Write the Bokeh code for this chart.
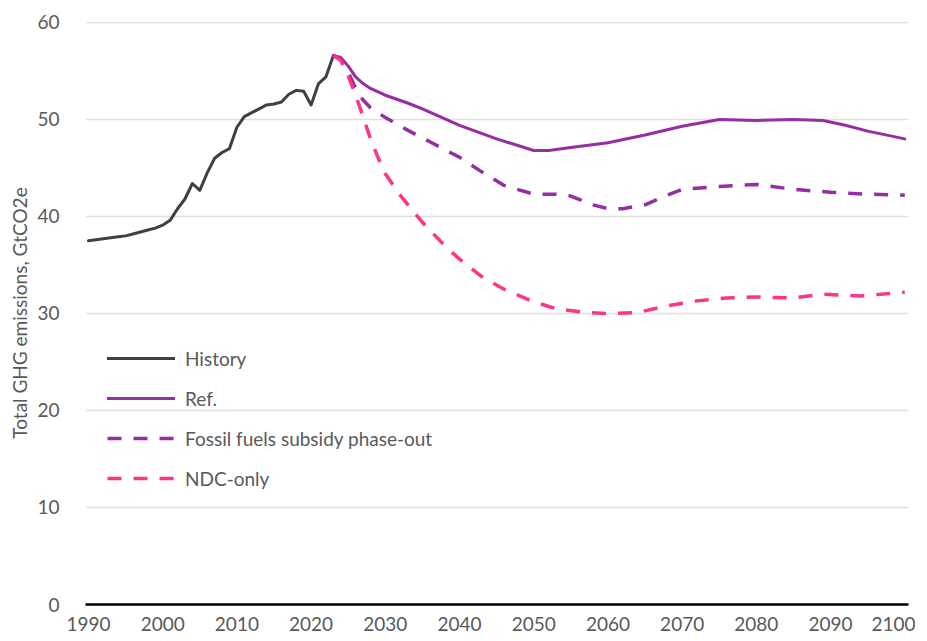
from bokeh.plotting import figure
from bokeh.models import Legend, LegendItem, FixedTicker, Range1d
from bokeh.embed import file_html
from bokeh.resources import INLINE

# ---- data ----
hist_years = list(range(1990, 2024))
hist_vals = [37.5, 37.6, 37.7, 37.8, 37.9, 38.0, 38.2, 38.4, 38.6, 38.8,
             39.1, 39.6, 40.8, 41.8, 43.4, 42.7, 44.5, 46.0, 46.6, 47.0,
             49.2, 50.3, 50.7, 51.1, 51.5, 51.6, 51.8, 52.6, 53.0, 52.9,
             51.5, 53.7, 54.4, 56.6]

ref_years = [2023, 2024, 2025, 2026, 2027, 2028, 2030, 2033, 2035, 2040, 2045,
             2050, 2052, 2055, 2060, 2065, 2070, 2075, 2080, 2085, 2089, 2092,
             2095, 2100]
ref_vals = [56.6, 56.4, 55.5, 54.4, 53.7, 53.2, 52.5, 51.7, 51.1, 49.4, 48.0,
            46.8, 46.8, 47.1, 47.6, 48.4, 49.3, 50.0, 49.9, 50.0, 49.9, 49.4,
            48.8, 48.0]

ffs_years = [2023, 2024, 2025, 2026, 2027, 2028, 2030, 2033, 2036, 2040, 2043,
             2046, 2050, 2053, 2055, 2058, 2060, 2062, 2065, 2068, 2070, 2075,
             2080, 2085, 2090, 2095, 2100]
ffs_vals = [56.6, 56.2, 54.9, 53.2, 52.0, 51.2, 50.2, 48.9, 47.7, 46.1, 44.6,
            43.2, 42.3, 42.3, 42.1, 41.2, 40.8, 40.8, 41.2, 42.2, 42.8, 43.1,
            43.3, 42.8, 42.5, 42.3, 42.2]

ndc_years = [2023, 2024, 2025, 2026, 2027, 2028, 2029, 2030, 2032, 2035, 2038,
             2040, 2043, 2046, 2050, 2053, 2057, 2060, 2064, 2068, 2072, 2076,
             2080, 2085, 2089, 2094, 2100]
ndc_vals = [56.6, 56.1, 54.5, 52.5, 50.3, 48.0, 46.1, 44.4, 42.2, 39.4, 37.0,
            35.6, 33.8, 32.5, 31.2, 30.5, 30.1, 30.0, 30.1, 30.8, 31.3, 31.6,
            31.7, 31.6, 32.0, 31.8, 32.2]

x_ticks = [1990, 2000, 2010, 2020, 2030, 2040, 2050, 2060, 2070, 2080, 2090, 2100]
y_ticks = [0, 10, 20, 30, 40, 50, 60]

series_names = ["History", "Ref.", "Fossil fuels subsidy phase-out", "NDC-only"]

FONT = "Lato"
TXT = "#595959"

p = figure(width=915, height=633,
           x_range=Range1d(1989.6, 2100.5), y_range=Range1d(0, 60.1),
           output_backend="svg", toolbar_location=None,
           min_border_left=85, min_border_right=7,
           min_border_top=21, min_border_bottom=29)
p.outline_line_color = None
p.background_fill_color = "white"
p.border_fill_color = "white"

p.xgrid.visible = False
p.ygrid.grid_line_color = "#e0e0e0"
p.ygrid.grid_line_width = 1.5
p.ygrid.ticker = FixedTicker(ticks=y_ticks)

p.yaxis.ticker = FixedTicker(ticks=y_ticks)
p.yaxis.axis_line_color = None
p.yaxis.major_tick_line_color = None
p.yaxis.minor_tick_line_color = None
p.yaxis.major_label_standoff = 20
p.yaxis.axis_label = "Total GHG emissions, GtCO2e"
p.yaxis.axis_label_standoff = 3
p.yaxis.axis_label_text_font = FONT
p.yaxis.axis_label_text_font_size = "19px"
p.yaxis.axis_label_text_font_style = "normal"
p.yaxis.axis_label_text_color = TXT

p.xaxis.ticker = FixedTicker(ticks=x_ticks)
p.xaxis.axis_line_color = "black"
p.xaxis.axis_line_width = 2.5
p.xaxis.major_tick_line_color = None
p.xaxis.minor_tick_line_color = None
p.xaxis.major_label_standoff = 6

for ax in (p.xaxis, p.yaxis):
    ax.major_label_text_font = FONT
    ax.major_label_text_font_size = "19px"
    ax.major_label_text_color = TXT

r_hist = p.line(hist_years, hist_vals, line_color="#404040", line_width=3,
                line_join="round", line_cap="round")
r_ref = p.line(ref_years, ref_vals, line_color="#952EA0", line_width=3,
               line_join="round", line_cap="round")
r_ffs = p.line(ffs_years, ffs_vals, line_color="#952EA0", line_width=3.5,
               line_dash="14 12", line_join="round")
r_ndc = p.line(ndc_years, ndc_vals, line_color="#FF3388", line_width=3.5,
               line_dash="14 12", line_join="round")

legend = Legend(items=[LegendItem(label=n, renderers=[r]) for n, r in
                       zip(series_names, [r_hist, r_ref, r_ffs, r_ndc])],
                location=(22, 114))
legend.glyph_width = 68
legend.glyph_height = 24
legend.label_height = 24
legend.label_standoff = 10
legend.spacing = 16
legend.padding = 0
legend.margin = 0
legend.border_line_color = None
legend.background_fill_alpha = 0
legend.label_text_font = FONT
legend.label_text_font_size = "19px"
legend.label_text_color = TXT
p.add_layout(legend)

open("out.html", "w").write(file_html(p, INLINE))
